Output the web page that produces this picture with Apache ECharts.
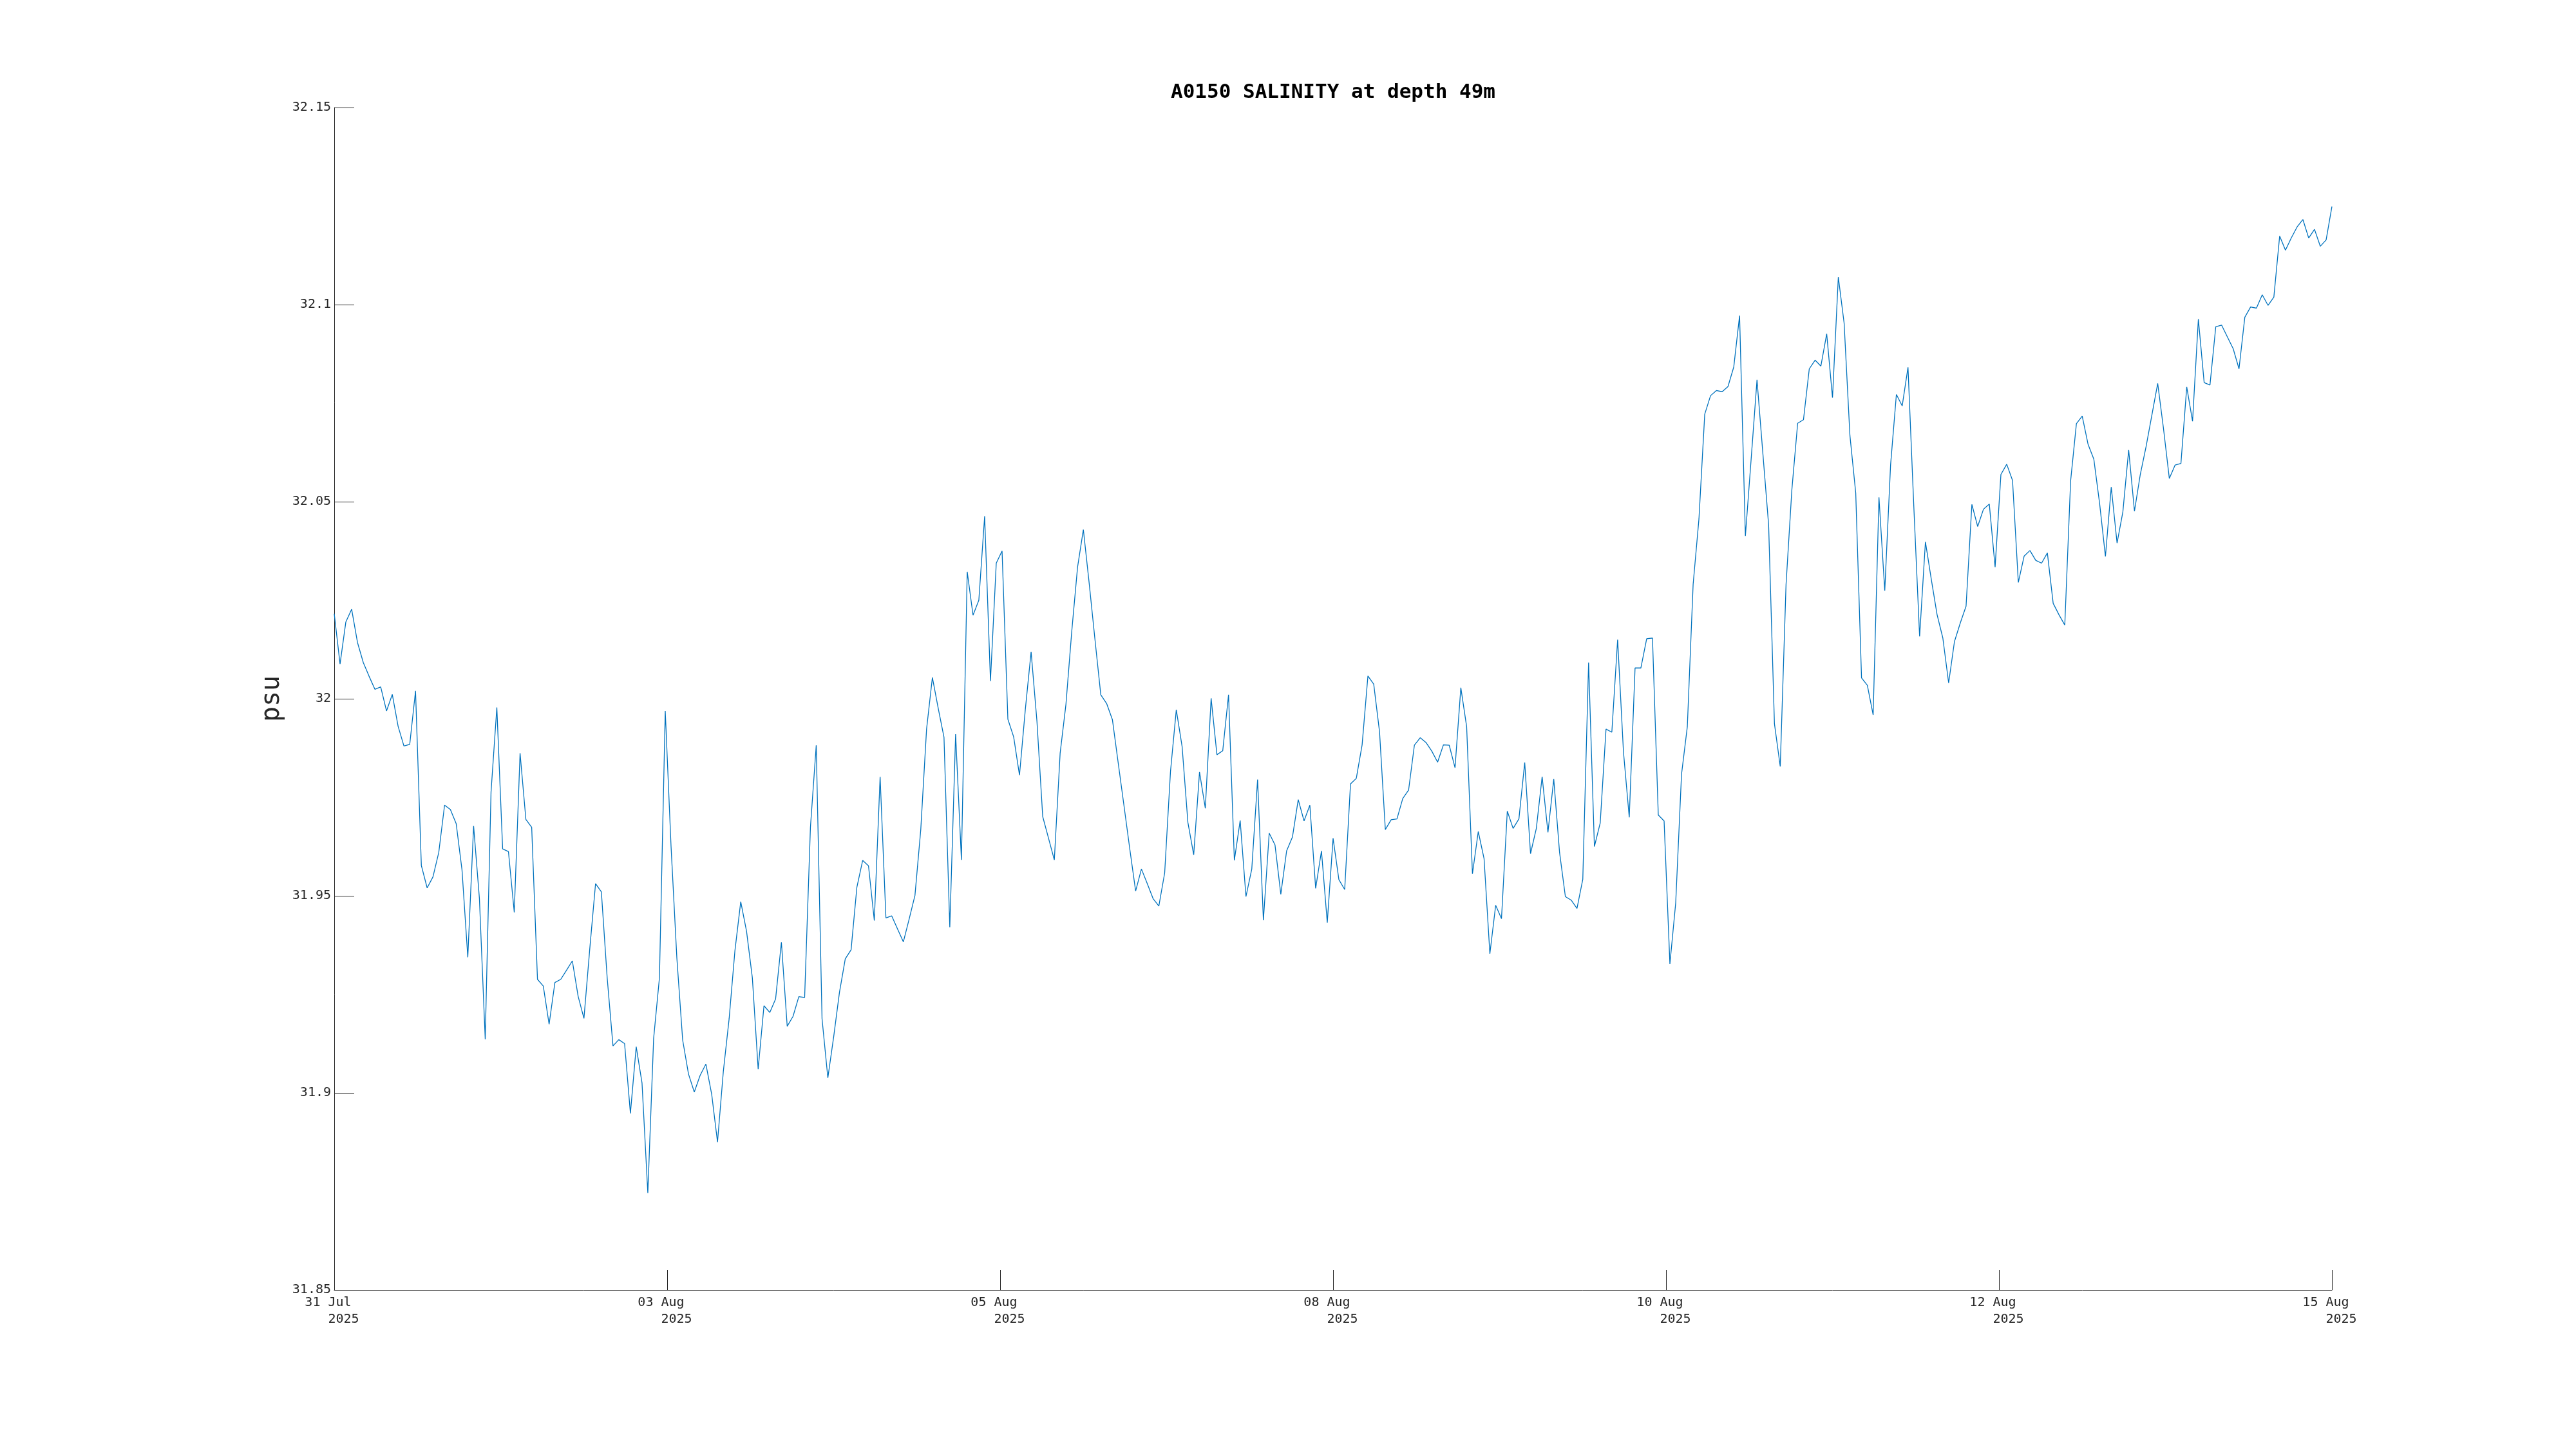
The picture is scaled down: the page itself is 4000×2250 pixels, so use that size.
<!DOCTYPE html>
<html>
<head>
<meta charset="utf-8">
<script src="https://cdn.jsdelivr.net/npm/echarts/dist/echarts.min.js"></script>
<style>
html,body{margin:0;padding:0;background:#fff;}
#chart{width:4000px;height:2250px;}
</style>
</head>
<body>
<div id="chart"></div>
<script>
// Hourly salinity samples (psu), first sample at the left edge of the axis
const salinity = [
32.0216,32.0088,32.0195,32.0227,32.0143,32.0092,32.0057,32.0024,32.0030,31.9969,
32.0011,31.9930,31.9880,31.9884,32.0020,31.9577,31.9520,31.9548,31.9610,31.9730,
31.9719,31.9683,31.9566,31.9344,31.9677,31.9493,31.9136,31.9763,31.9978,31.9619,
31.9612,31.9458,31.9862,31.9694,31.9674,31.9288,31.9271,31.9174,31.9280,31.9288,
31.9311,31.9335,31.9245,31.9189,31.9365,31.9531,31.9510,31.9292,31.9119,31.9135,
31.9125,31.8948,31.9117,31.9025,31.8746,31.9138,31.9292,31.9969,31.9625,31.9342,
31.9134,31.9048,31.9002,31.9044,31.9073,31.8996,31.8875,31.9054,31.9188,31.9361,
31.9485,31.9410,31.9292,31.9060,31.9221,31.9204,31.9238,31.9382,31.9169,31.9194,
31.9244,31.9242,31.9674,31.9882,31.9188,31.9038,31.9142,31.9255,31.9340,31.9363,
31.9522,31.9590,31.9576,31.9437,31.9802,31.9444,31.9449,31.9416,31.9383,31.9441,
31.9501,31.9668,31.9923,32.0054,31.9976,31.9902,31.9420,31.9910,31.9591,32.0322,
32.0212,32.0250,32.0463,32.0045,32.0344,32.0375,31.9948,31.9903,31.9806,31.9972,
32.0119,31.9944,31.9701,31.9646,31.9591,31.9862,31.9986,32.0171,32.0334,32.0429,
32.0293,32.0150,32.0010,31.9988,31.9947,31.9837,31.9728,31.9618,31.9512,31.9568,
31.9531,31.9493,31.9474,31.9558,31.9815,31.9972,31.9879,31.9686,31.9604,31.9814,
31.9722,32.0001,31.9858,31.9868,32.0010,31.9590,31.9691,31.9498,31.9568,31.9795,
31.9438,31.9659,31.9629,31.9504,31.9614,31.9649,31.9744,31.9690,31.9730,31.9519,
31.9614,31.9432,31.9646,31.9541,31.9516,31.9784,31.9798,31.9883,32.0058,32.0037,
31.9916,31.9668,31.9693,31.9695,31.9747,31.9768,31.9882,31.9901,31.9889,31.9867,
31.9839,31.9883,31.9882,31.9825,32.0028,31.9929,31.9556,31.9663,31.9594,31.9353,
31.9476,31.9442,31.9715,31.9671,31.9695,31.9838,31.9607,31.9671,31.9802,31.9661,
31.9796,31.9610,31.9498,31.9489,31.9468,31.9542,32.0092,31.9625,31.9685,31.9923,
31.9915,32.0150,31.9866,31.9699,32.0078,32.0078,32.0152,32.0154,31.9705,31.9690,
31.9327,31.9482,31.9808,31.9929,32.0290,32.0456,32.0722,32.0769,32.0782,32.0779,
32.0792,32.0842,32.0972,32.0413,32.0610,32.0809,32.0624,32.0441,31.9937,31.9828,
32.0290,32.0530,32.0699,32.0708,32.0837,32.0859,32.0844,32.0926,32.0764,32.1070,
32.0953,32.0668,32.0522,32.0053,32.0034,31.9959,32.0511,32.0274,32.0593,32.0772,
32.0743,32.0841,32.0488,32.0158,32.0398,32.0304,32.0214,32.0154,32.0040,32.0145,
32.0192,32.0235,32.0493,32.0437,32.0481,32.0494,32.0334,32.0569,32.0595,32.0554,
32.0295,32.0362,32.0376,32.0351,32.0344,32.0370,32.0242,32.0213,32.0187,32.0552,
32.0698,32.0717,32.0646,32.0608,32.0495,32.0361,32.0537,32.0395,32.0474,32.0631,
32.0476,32.0569,32.0640,32.0720,32.0800,32.0685,32.0559,32.0593,32.0597,32.0791,
32.0704,32.0963,32.0802,32.0796,32.0944,32.0948,32.0918,32.0888,32.0837,32.0968,
32.0994,32.0991,32.1025,32.0998,32.1019,32.1174,32.1138,32.1169,32.1197,32.1216,
32.1169,32.1191,32.1148,32.1164,32.1249
];
// x-axis tick labels (evenly spaced across the full time range)
const tickDates = ['31 Jul','03 Aug','05 Aug','08 Aug','10 Aug','12 Aug','15 Aug'];
const tickYear = '2025';
// y-axis range
const yTicks = [31.85, 31.9, 31.95, 32, 32.05, 32.1, 32.15];

const FONT = 'DejaVu Sans Mono';
const AX = '#262626';
const lastIdx = salinity.length - 1;
const xStep = lastIdx / (tickDates.length - 1);

const chart = echarts.init(document.getElementById('chart'), null, {renderer: 'canvas'});
chart.setOption({
  animation: false,
  backgroundColor: '#ffffff',
  title: {
    text: 'A0150 SALINITY at depth 49m',
    left: 2070,
    top: 128,
    textAlign: 'center',
    padding: 0,
    textStyle: {fontFamily: FONT, fontSize: 31, fontWeight: 'bold', color: '#000000'}
  },
  grid: {left: 519, right: 379, top: 167, bottom: 247, containLabel: false},
  xAxis: {
    type: 'value',
    min: 0,
    max: lastIdx,
    interval: xStep,
    axisLine: {show: true, lineStyle: {color: AX, width: 1}},
    axisTick: {show: true, inside: true, length: 31, lineStyle: {color: AX, width: 1}},
    splitLine: {show: false},
    axisLabel: {
      show: true,
      margin: 7,
      fontFamily: FONT,
      fontSize: 20,
      lineHeight: 26,
      color: AX,
      padding: [0, 7, 0, 0],
      hideOverlap: false,
      showMinLabel: true,
      showMaxLabel: true,
      formatter: function (v) {
        const k = Math.round(v / xStep);
        return tickDates[k] + ' \n   ' + tickYear;
      }
    }
  },
  yAxis: {
    type: 'value',
    min: yTicks[0],
    max: yTicks[yTicks.length - 1],
    interval: 0.05,
    name: 'psu',
    nameLocation: 'middle',
    nameRotate: 90,
    nameGap: 75,
    nameTextStyle: {fontFamily: FONT, fontSize: 40, color: AX},
    axisLine: {show: true, lineStyle: {color: AX, width: 1}},
    axisTick: {show: true, inside: true, length: 31, lineStyle: {color: AX, width: 1}},
    splitLine: {show: false},
    axisLabel: {
      show: true,
      margin: 5,
      fontFamily: FONT,
      fontSize: 20,
      color: AX,
      showMinLabel: true,
      showMaxLabel: true,
      formatter: function (v) { return String(+v.toFixed(2)); }
    }
  },
  series: [{
    type: 'line',
    data: salinity.map(function (v, i) { return [i, v]; }),
    showSymbol: false,
    symbol: 'none',
    sampling: false,
    lineStyle: {color: '#0072BD', width: 1.3},
    emphasis: {disabled: true}
  }]
});
</script>
</body>
</html>
